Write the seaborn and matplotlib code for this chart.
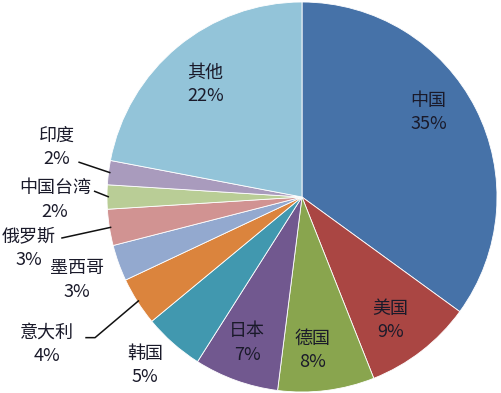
import numpy as np
import matplotlib
matplotlib.use("Agg")
import matplotlib.pyplot as plt
import seaborn as sns

countries = ["中国", "美国", "德国", "日本", "韩国", "意大利", "墨西哥", "俄罗斯", "中国台湾", "印度", "其他"]
shares = [35, 9, 8, 7, 5, 4, 3, 3, 2, 2, 22]
colors = ["#4672A8", "#AA4643", "#89A54E", "#71588F", "#4198AF", "#DB843D",
          "#93A9CF", "#D19392", "#B9CD96", "#A99BBD", "#93C4D9"]

sns.set_theme(style="white")
plt.rcParams["font.family"] = ["Noto Sans CJK SC", "DejaVu Sans"]

# label placement: (radius factor, angle offset in degrees from wedge middle)
label_pos = {
    "中国": (0.78, 6.7), "美国": (0.78, -2.2), "德国": (0.79, -3.1), "日本": (0.80, -0.8),
    "韩国": (1.18, -1.6), "意大利": (1.51, -2.3), "墨西哥": (1.23, 0.45),
    "俄罗斯": (1.424, 1.6), "中国台湾": (1.267, 0.7), "印度": (1.282, -4.2), "其他": (0.76, 1.0),
}
# leader lines: offset (data units) of line start from label centre, optional elbow x-offset
leaders = {
    "印度": ((0.11, -0.074), None),
    "中国台湾": ((0.20, 0.046), None),
    "俄罗斯": ((0.165, 0.051), None),
    "意大利": ((0.195, 0.036), 0.05),
}

fig = plt.figure(figsize=(5.01, 3.93), dpi=100)
ax = fig.add_axes([0, 0, 1, 1])
wedges, _ = ax.pie(shares, colors=colors, startangle=90, counterclock=False,
                   radius=1.0, wedgeprops=dict(edgecolor="white", linewidth=0.6))

for w, name, val in zip(wedges, countries, shares):
    mid = 0.5 * (w.theta1 + w.theta2)
    r, d = label_pos[name]
    a = np.deg2rad(mid + d)
    x, y = r * np.cos(a), r * np.sin(a)
    ax.text(x, y, f"{name}\n{val}%", ha="center", va="center", fontsize=13,
            color="#1a1a2a", linespacing=1.4)
    if name in leaders:
        (ox, oy), elbow = leaders[name]
        sx, sy = x + ox, y + oy
        ma = np.deg2rad(mid)
        ex, ey = 0.99 * np.cos(ma), 0.99 * np.sin(ma)
        xs, ys = [sx], [sy]
        if elbow is not None:
            xs.append(sx + elbow)
            ys.append(sy)
        xs.append(ex)
        ys.append(ey)
        ax.plot(xs, ys, color="#111111", lw=1.1, solid_capstyle="butt")

ax.set_xlim(-302 / 195, (501 - 302) / 195)
ax.set_ylim(-(393 - 197) / 195, 197 / 195)
ax.set_aspect("equal")
ax.axis("off")
fig.savefig("out.png", dpi=100)
